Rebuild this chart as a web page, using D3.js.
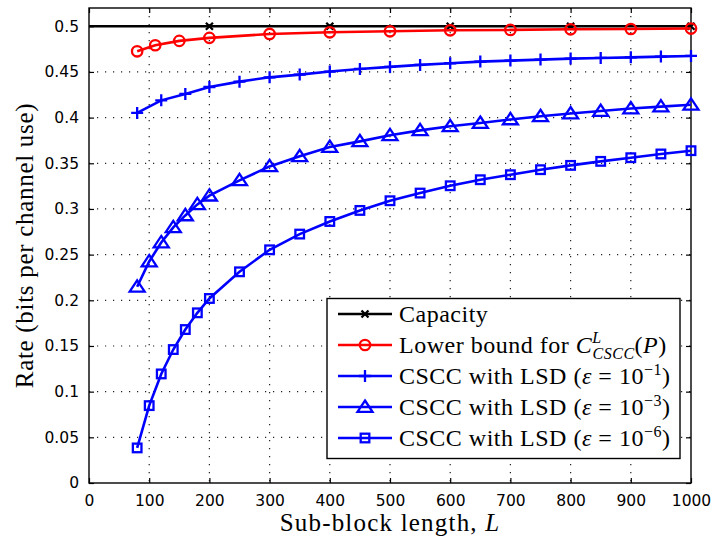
<html>
<head>
<script src="https://cdn.jsdelivr.net/npm/d3@7"></script>
<style>
  body { margin: 0; background: white; }
  .tick text { font-family: "DejaVu Sans", sans-serif; }
  .serif { font-family: "Liberation Serif", "DejaVu Serif", serif; }
</style>
</head>
<body>
<svg id="chart" width="713" height="538"></svg>
<script>
// ---- data ----
const capX = [0, 200, 400, 600, 800, 1000]
const capY = [0.5, 0.5, 0.5, 0.5, 0.5, 0.5]

const lbX = [80, 110, 150, 200, 300, 400, 500, 600, 700, 800, 900, 1000]
const lbY = [0.4726, 0.4792, 0.4840, 0.4873, 0.4916, 0.4934, 0.4945, 0.4956, 0.4960, 0.4967, 0.4970, 0.4975]

const eps1X = [80, 120, 160, 200, 250, 300, 350, 400, 450, 500, 550, 600, 650, 700, 750, 800, 850, 900, 950, 1000]
const eps1Y = [0.4051, 0.4189, 0.4259, 0.4335, 0.4394, 0.4441, 0.4471, 0.4504, 0.4533, 0.4555, 0.4577, 0.4595, 0.4613, 0.4624, 0.4635, 0.4646, 0.4653, 0.4660, 0.4668, 0.4675]

const eps3X = [80, 100, 120, 140, 160, 180, 200, 250, 300, 350, 400, 450, 500, 550, 600, 650, 700, 750, 800, 850, 900, 950, 1000]
const eps3Y = [0.2148, 0.2425, 0.2633, 0.2798, 0.2929, 0.3050, 0.3145, 0.3313, 0.3466, 0.3576, 0.3678, 0.3740, 0.3806, 0.3860, 0.3905, 0.3941, 0.3980, 0.4015, 0.4045, 0.4072, 0.4100, 0.4120, 0.4140]

const eps6X = [80, 100, 120, 140, 160, 180, 200, 250, 300, 350, 400, 450, 500, 550, 600, 650, 700, 750, 800, 850, 900, 950, 1000]
const eps6Y = [0.0384, 0.0847, 0.1194, 0.1461, 0.1680, 0.1863, 0.2020, 0.2312, 0.2553, 0.2725, 0.2863, 0.2984, 0.3090, 0.3174, 0.3254, 0.3320, 0.3375, 0.3430, 0.3477, 0.3521, 0.3561, 0.3602, 0.3638]

const xTicks = [0, 100, 200, 300, 400, 500, 600, 700, 800, 900, 1000]
const yTicks = [0, 0.05, 0.1, 0.15, 0.2, 0.25, 0.3, 0.35, 0.4, 0.45, 0.5]

const series = [
  { name: "cap", xs: capX, ys: capY, color: "#000000", marker: "x", skipFirstMarker: true },
  { name: "lb", xs: lbX, ys: lbY, color: "#ff0000", marker: "o" },
  { name: "e1", xs: eps1X, ys: eps1Y, color: "#0000ff", marker: "+" },
  { name: "e3", xs: eps3X, ys: eps3Y, color: "#0000ff", marker: "^" },
  { name: "e6", xs: eps6X, ys: eps6Y, color: "#0000ff", marker: "s" }
]

// ---- layout ----
let svg = d3.select("#chart")
let pLeft = 89, pRight = 691, pTop = 8, pBottom = 483

let x = d3.scaleLinear().domain([0, 1000]).range([pLeft, pRight])
let y = d3.scaleLinear().domain([0, 0.52]).range([pBottom, pTop])

// grid
let grid = svg.append("g")
grid.selectAll("line.vg").data(xTicks.slice(1, -1))
  .enter().append("line")
  .attr("x1", d => x(d)).attr("x2", d => x(d))
  .attr("y1", pTop).attr("y2", pBottom)
  .attr("stroke", "#222").attr("stroke-width", 1.2)
  .attr("stroke-dasharray", "1.2,6.8")
grid.selectAll("line.hg").data(yTicks.slice(1))
  .enter().append("line")
  .attr("x1", pLeft).attr("x2", pRight)
  .attr("y1", d => y(d)).attr("y2", d => y(d))
  .attr("stroke", "#222").attr("stroke-width", 1.2)
  .attr("stroke-dasharray", "1.2,6.8")

// axes (ticks inside, like matlab box)
let xAxis = svg.append("g").attr("transform", `translate(0,${pBottom})`)
  .call(d3.axisBottom(x).tickValues(xTicks).tickSizeInner(-5).tickSizeOuter(0).tickPadding(12).tickFormat(d3.format("d")))
let xAxisTop = svg.append("g").attr("transform", `translate(0,${pTop})`)
  .call(d3.axisTop(x).tickValues(xTicks).tickSizeInner(-5).tickSizeOuter(0).tickFormat(""))
let yAxis = svg.append("g").attr("transform", `translate(${pLeft},0)`)
  .call(d3.axisLeft(y).tickValues(yTicks).tickSizeInner(-5).tickSizeOuter(0).tickPadding(10).tickFormat(d => d3.format("")(+d.toFixed(2))))
let yAxisRight = svg.append("g").attr("transform", `translate(${pRight},0)`)
  .call(d3.axisRight(y).tickValues(yTicks).tickSizeInner(-5).tickSizeOuter(0).tickFormat(""))

svg.selectAll(".domain").remove()
svg.selectAll(".tick line").attr("stroke", "#000").attr("stroke-width", 1.2)
svg.selectAll(".tick text").attr("font-size", 15.5).attr("fill", "#000")

svg.append("rect")
  .attr("x", pLeft).attr("y", pTop)
  .attr("width", pRight - pLeft).attr("height", pBottom - pTop)
  .attr("fill", "none").attr("stroke", "#000").attr("stroke-width", 1.4)

// ---- markers ----
function drawMarker(g, type, cx, cy, color) {
  if (type === "o") {
    g.append("circle").attr("cx", cx).attr("cy", cy).attr("r", 5.2)
      .attr("fill", "none").attr("stroke", color).attr("stroke-width", 2.3)
  } else if (type === "+") {
    g.append("path").attr("d", `M${cx - 6},${cy}H${cx + 6}M${cx},${cy - 6}V${cy + 6}`)
      .attr("stroke", color).attr("stroke-width", 2.3)
  } else if (type === "x") {
    g.append("path").attr("d", `M${cx - 3.5},${cy - 3.5}L${cx + 3.5},${cy + 3.5}M${cx - 3.5},${cy + 3.5}L${cx + 3.5},${cy - 3.5}`)
      .attr("stroke", color).attr("stroke-width", 2.3)
  } else if (type === "^") {
    g.append("path").attr("d", `M${cx},${cy - 6.5}L${cx + 7.5},${cy + 4.8}L${cx - 7.5},${cy + 4.8}Z`)
      .attr("fill", "none").attr("stroke", color).attr("stroke-width", 2.3)
  } else if (type === "s") {
    g.append("rect").attr("x", cx - 4.3).attr("y", cy - 4.3).attr("width", 8.6).attr("height", 8.6)
      .attr("fill", "none").attr("stroke", color).attr("stroke-width", 2.3)
  }
}

let line = d3.line().x(d => x(d[0])).y(d => y(d[1]))
let plot = svg.append("g")
series.forEach(s => {
  let pts = s.xs.map((v, i) => [v, s.ys[i]])
  plot.append("path").datum(pts)
    .attr("d", line)
    .attr("fill", "none").attr("stroke", s.color).attr("stroke-width", 2.6)
  pts.forEach((p, i) => {
    if (s.skipFirstMarker && i === 0) return
    drawMarker(plot, s.marker, x(p[0]), y(p[1]), s.color)
  })
})

// ---- axis labels ----
let xl = svg.append("text").attr("class", "serif").attr("x", (pLeft + pRight) / 2).attr("y", 531)
  .attr("text-anchor", "middle").attr("font-size", 25).attr("letter-spacing", 1.2)
xl.append("tspan").text("Sub-block length, ")
xl.append("tspan").attr("font-style", "italic").text("L")

svg.append("text").attr("class", "serif")
  .attr("transform", `translate(33,${(pTop + pBottom) / 2}) rotate(-90)`)
  .attr("text-anchor", "middle").attr("font-size", 25).attr("letter-spacing", 0.7)
  .text("Rate (bits per channel use)")

// ---- legend ----
let lg = svg.append("g")
lg.append("rect").attr("x", 327).attr("y", 298.5).attr("width", 353).attr("height", 160)
  .attr("fill", "white").attr("stroke", "#000").attr("stroke-width", 1.4)

let rowY = [314, 345, 376, 407, 438]
series.forEach((s, i) => {
  let yy = rowY[i]
  lg.append("line").attr("x1", 338).attr("x2", 392).attr("y1", yy).attr("y2", yy)
    .attr("stroke", s.color).attr("stroke-width", 2.6)
  drawMarker(lg, s.marker, 365, yy, s.color)
})

function legendText(yy) {
  return lg.append("text").attr("class", "serif").attr("x", 399).attr("y", yy + 8)
    .attr("font-size", 24).attr("letter-spacing", 0.5)
}
legendText(rowY[0]).text("Capacity")
let t1 = legendText(rowY[1])
t1.append("tspan").text("Lower bound for ")
t1.append("tspan").attr("font-style", "italic").text("C")
t1.append("tspan").attr("font-style", "italic").attr("font-size", 16).attr("dy", -10).text("L")
t1.append("tspan").attr("font-style", "italic").attr("font-size", 16).attr("dx", -9).attr("dy", 16).text("CSCC")
t1.append("tspan").attr("dy", -6).text("(")
t1.append("tspan").attr("font-style", "italic").text("P")
t1.append("tspan").text(")")

const epsExp = ["\u22121", "\u22123", "\u22126"]
epsExp.forEach((e, i) => {
  let t = legendText(rowY[i + 2])
  t.append("tspan").text("CSCC with LSD (")
  t.append("tspan").attr("font-style", "italic").text("\u03b5")
  t.append("tspan").text(" = 10")
  t.append("tspan").attr("font-size", 16).attr("dy", -9).text(e)
  t.append("tspan").attr("dy", 9).text(")")
})
</script>
</body>
</html>
